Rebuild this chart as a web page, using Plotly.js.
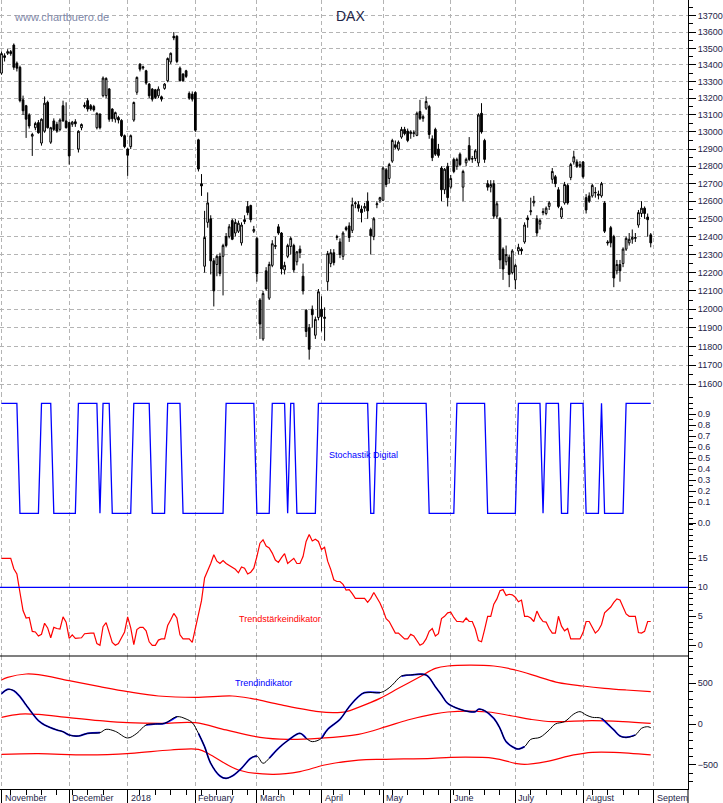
<!DOCTYPE html>
<html><head><meta charset="utf-8">
<script src="https://cdn.plot.ly/plotly-3.0.1.min.js"></script>
<style>html,body{margin:0;padding:0;background:#fff}#chart{width:723px;height:803px}</style>
</head><body><div id="chart"></div>
<script>
// ---- month axis ----
const monthLabels = ['November','December','2018','February','March','April','May','June','July','August','Septem'];
const monthStarts = [0,22,41,63,83,104,124,146,167,189,212];
const weekStarts = [3,8,13,18,23,28,33,45,50,55,60,65,70,75,80,85,90,95,100,108,113,118,123,127,132,137,142,147,152,157,162,172,177,182,187,192,197,202,207];

// ---- DAX daily candles (trading-day index 0..211) ----
const openPx = [13350,13455,13470,13480,13520,13410,13385,13190,13155,13100,
12975,13025,13055,12935,13005,13175,12940,13065,13045,13015,
13155,13065,13055,13045,13060,12900,13025,13150,13185,13155,
13150,13025,13105,13215,13215,13255,13135,13075,13085,13068,
12978,12900,12914,13070,13235,13404,13388,13364,13284,13254,
13250,13214,13208,13258,13304,13418,13574,13574,13380,13344,
13364,13228,13224,13234,12954,12700,12235,12480,12500,12265,
12245,12290,12290,12400,12400,12490,12420,12430,12365,12495,
12570,12575,12430,12390,12050,11840,12210,12060,12240,12345,
12455,12420,12215,12290,12345,12350,12260,12330,12180,11995,
11900,12000,11860,11955,12000,11950,12150,12250,12310,12395,
12370,12290,12450,12460,12435,12585,12580,12555,12560,12600,
12440,12400,12580,12605,12605,12780,12730,12830,12925,12900,
12970,13015,13005,12990,12990,12980,13120,13080,13140,13150,
12960,13015,12900,12790,12665,12800,12680,12840,12800,12870,
12680,12820,12920,12845,12845,12820,13110,12950,12700,12680,
12700,12515,12500,12330,12260,12285,12200,12160,12320,12330,
12370,12505,12540,12590,12500,12470,12535,12530,12570,12725,
12740,12665,12510,12590,12690,12735,12825,12825,12800,12825,
12620,12630,12630,12650,12640,12630,12590,12370,12450,12400,
12210,12245,12250,12330,12365,12385,12390,12465,12530,12560,
12510,12410];
const highPx = [13480,13470,13495,13490,13530,13420,13395,13215,13160,13110,
12995,13060,13070,13080,13210,13185,13030,13080,13060,13080,
13185,13175,13060,13065,13075,13010,13050,13175,13200,13165,
13160,13115,13110,13330,13325,13260,13140,13120,13095,13075,
12985,12905,12985,13180,13330,13410,13395,13370,13290,13260,
13255,13270,13215,13290,13445,13475,13600,13580,13390,13350,
13370,13240,13240,13240,12960,12755,12545,12650,12520,12280,
12300,12310,12360,12420,12470,12500,12500,12490,12480,12520,
12600,12580,12460,12400,12060,12100,12230,12260,12380,12400,
12470,12425,12260,12360,12400,12360,12320,12350,12250,12000,
11920,12020,11960,12110,12070,12010,12320,12330,12330,12410,
12390,12430,12460,12480,12620,12600,12600,12575,12590,12650,
12450,12510,12600,12625,12800,12790,12820,12960,12950,12950,
13030,13030,13020,13010,13010,13120,13190,13100,13210,13160,
12980,13025,12930,12800,12790,12820,12750,12850,12850,12880,
12780,12850,12970,12860,12900,13110,13170,12960,12720,12720,
12720,12600,12510,12340,12350,12300,12330,12250,12360,12340,
12480,12520,12620,12630,12520,12500,12560,12570,12600,12790,
12750,12680,12570,12710,12700,12820,12890,12840,12830,12830,
12640,12650,12700,12680,12660,12710,12600,12380,12460,12410,
12270,12270,12340,12400,12420,12440,12420,12550,12600,12570,
12530,12420];
const lowPx = [13340,13420,13460,13455,13370,13360,13175,13100,12965,13020,
12860,13010,12990,12920,12995,13020,12930,13005,12995,13005,
13060,13020,12810,13030,13030,12880,13010,13140,13120,13125,
13120,13015,13015,13205,13200,13060,13060,13055,13050,12970,
12905,12745,12900,13060,13220,13360,13370,13280,13200,13180,
13195,13200,13180,13250,13295,13405,13550,13410,13300,13300,
13320,13190,13180,13000,12770,12630,12200,12450,12190,12015,
12180,12180,12075,12340,12390,12380,12400,12420,12350,12470,
12520,12480,12420,12150,11840,11830,12100,12050,12230,12330,
12410,12190,12190,12280,12300,12200,12240,12280,12080,11850,
11730,11900,11840,11940,11880,11830,12100,12230,12240,12380,
12280,12270,12430,12370,12420,12560,12540,12480,12540,12500,
12300,12380,12560,12590,12600,12680,12700,12820,12900,12890,
12960,12980,12940,12960,12970,12975,13070,13060,13130,12960,
12830,12860,12850,12600,12640,12570,12670,12760,12780,12800,
12600,12800,12830,12820,12830,12800,12990,12820,12660,12650,
12500,12500,12220,12160,12240,12120,12190,12110,12300,12300,
12360,12450,12520,12570,12400,12440,12520,12520,12550,12700,
12680,12560,12500,12580,12580,12720,12810,12790,12790,12730,
12530,12590,12620,12620,12610,12620,12420,12350,12340,12120,
12190,12150,12230,12320,12350,12360,12370,12450,12510,12500,
12400,12340];
const closePx = [13468,13445,13480,13468,13385,13380,13185,13125,13075,13035,
12985,13050,12995,13075,13170,13025,13025,13015,13005,13070,
13065,13025,12860,13058,13048,13004,13044,13158,13135,13135,
13130,13110,13025,13320,13318,13075,13078,13114,13070,12978,
12914,12864,12978,13174,13324,13374,13382,13290,13214,13194,
13204,13254,13194,13284,13438,13470,13564,13420,13304,13304,
13330,13200,13194,13010,12784,12687,12395,12590,12265,12100,
12290,12195,12350,12350,12455,12385,12480,12475,12465,12485,
12535,12495,12440,12195,11920,12085,12110,12245,12360,12350,
12420,12220,12240,12350,12390,12215,12315,12310,12100,11880,
11785,11970,11945,12095,11960,11957,12305,12310,12255,12400,
12300,12420,12440,12395,12580,12590,12560,12535,12570,12545,
12405,12500,12585,12620,12790,12695,12810,12950,12910,12940,
13015,12990,12950,13000,12995,13110,13080,13090,13180,12985,
12850,12870,12863,12665,12783,12620,12730,12770,12840,12810,
12770,12840,12840,12842,12890,13100,13000,12840,12680,12695,
12515,12585,12270,12220,12300,12190,12320,12240,12340,12320,
12465,12495,12545,12600,12420,12490,12540,12560,12590,12770,
12700,12570,12560,12695,12590,12810,12855,12800,12810,12740,
12550,12600,12690,12648,12634,12700,12430,12365,12365,12170,
12245,12210,12330,12390,12385,12395,12395,12535,12560,12530,
12495,12365];

// ---- Stochastik Digital (0/1 per day) ----
const stochDigital = [1,1,1,1,1,1,0,0,0,0,0,0,0,1,1,1,1,0,0,0,0,0,0,0,0,1,1,1,1,1,1,1,0,1,1,1,
0,0,0,0,0,0,0,1,1,1,1,1,1,0,0,0,0,0,1,1,1,1,1,0,0,0,0,0,0,0,0,0,0,0,0,0,0,
1,1,1,1,1,1,1,1,1,1,0,0,0,0,0,1,1,1,1,1,0,1,1,0,0,0,0,0,0,0,
1,1,1,1,1,1,1,1,1,1,1,1,1,1,1,1,1,0,0,1,1,1,1,1,1,1,1,1,1,1,1,1,1,1,1,1,
0,0,0,0,0,0,0,0,0,1,1,1,1,1,1,1,1,1,1,0,0,0,0,0,0,0,0,0,0,1,1,1,1,1,1,1,1,0,
1,1,1,1,1,0,0,0,1,1,1,1,1,0,0,0,0,0,1,0,0,0,0,0,0,0,1,1,1,1,1,1,1,1,1];

// ---- Trendstärkeindikator ----
const trendStrength = [15,15,15,15,13.2,12.3,9.1,6.0,4.7,4.8,
2.4,2.3,1.6,1.9,3.8,3.0,1.3,3.1,2.9,2.8,
4.9,4.0,1.2,1.8,1.2,1.2,1.3,2.0,2.1,2.1,
2.1,0.3,0,3.2,3.9,2.0,0.5,0,0.3,1.3,
2.3,4.9,3.0,0.1,2.7,3.1,3.1,2.5,0.6,0,
0,0.9,1.1,1.1,3.4,4.4,5.5,4.7,1.8,1.1,
1.1,1.1,0.5,3.0,5.6,7.7,11.6,12.8,14.1,15.6,
14.5,14.1,14.6,14.1,13.8,13.5,13.1,12.5,13.5,13.3,
12.3,12.6,13.3,15.3,17.6,18.2,17.1,16.8,15.9,14.7,
14.3,15.1,15.8,14.1,14.5,15.0,14.1,14.1,15.3,17.9,
19.1,18.0,18.3,17.9,16.5,16.9,14.5,13.1,11.3,11.0,
11.0,10.5,9.5,9.6,8.9,8.1,8.1,8.1,8.1,7.4,
8.1,9.1,8.3,7.3,6.1,4.6,4.1,3.1,2.1,2.1,
1.6,1.1,1.1,1.9,1.6,0.9,0,0.3,1.1,2.4,
2.9,1.6,2.0,4.6,5.0,5.6,5.7,4.8,4.1,4.1,
4.0,4.7,4.1,4.1,2.8,0.8,0.6,2.7,5.0,5.0,
7.1,8.0,9.4,9.6,8.6,8.8,8.7,8.3,7.5,7.8,
5.0,5.0,4.7,4.1,5.9,4.8,4.1,4.0,2.9,2.1,
2.1,5.0,3.3,2.5,2.9,1.1,1.1,1.1,1.1,2.2,
4.1,4.1,3.2,2.1,2.6,3.6,5.6,6.1,6.6,7.4,
8.0,7.8,6.5,5.4,5.0,5.0,5.0,2.2,2.1,2.4,
4.1,4.1];
const trendStrengthLevel = 10;

// ---- Trendindikator ----
const trendX = [0,2,4,6,8,10,12,14,18,20,22,25,28,32,34,37,41,44,47,50,53,57,60,62,64,66,68,71,73,75,78,81,83,85,87,90,93,97,99,101,104,106,110,113,116,118,123,125,127,130,133,138,141,143,145,149,152,154,155,157,160,162,164,167,168,170,172,175,178,180,183,186,188,190,192,195,199,201,203,206,208,210,211];
const trendY = [370,424,408,335,233,131,41,-12,-73,-94,-135,-147,-114,-106,-65,-90,-171,-114,-12,0,8,90,61,16,-114,-277,-481,-636,-665,-636,-542,-420,-392,-481,-420,-298,-204,-114,-175,-216,-175,-65,57,212,335,384,384,416,477,587,600,600,457,355,253,180,151,151,180,163,69,-53,-216,-298,-306,-277,-188,-163,-73,0,29,122,151,110,82,69,-73,-147,-163,-135,-53,-33,-45];
const trendBlueRanges = [[0,23],[25,32],[47,54],[56,58],[64,84],[86,100],[104,123],[130,146],[149,155],[157,171],[195,206]];
const upperX = [0,2,8,12,22,32,41,51,63,75,81,91,103,108,112,116,123,129,136,141,145,160,167,175,181,189,196,203,211];
const upperY = [539,571,612,604,530,457,396,343,326,343,314,233,151,139,151,204,314,437,579,681,710,710,661,571,506,465,437,416,396];
const middleX = [0,6,12,22,32,41,52,63,73,84,93,103,116,125,132,140,145,158,166,172,179,192,202,211];
const middleY = [82,122,118,78,41,16,8,16,-73,-163,-188,-175,-126,-33,49,118,147,147,98,57,29,41,29,8];
const lowerX = [0,12,28,42,55,64,68,77,88,97,105,116,125,140,146,160,167,170,177,186,192,199,211];
const lowerY = [-371,-363,-379,-359,-318,-310,-379,-563,-616,-583,-502,-441,-432,-420,-408,-420,-481,-494,-461,-379,-347,-347,-379];

// ---- axis ticks ----
const priceTicks = [11600,11700,11800,11900,12000,12100,12200,12300,12400,12500,12600,12700,12800,12900,13000,13100,13200,13300,13400,13500,13600,13700];
const stochTicks = [-0.09,0.1,0.2,0.3,0.4,0.5,0.6,0.7,0.8,0.9];
const stochTickText = ['0.0','0.1','0.2','0.3','0.4','0.5','0.6','0.7','0.8','0.9'];
const strengthTicks = [0,5,10,15];
const trendTicks = [-500,0,500];

const days = closePx.map((_, i) => i);
const TXT = '#1e2448';
const FONT = 'Arial, "Liberation Sans", sans-serif';

const inBlue = x => trendBlueRanges.some(r => x >= r[0] && x <= r[1]);
const trendBlueY = trendY.map((v, k) => inBlue(trendX[k]) ? v : null);

const priceMinor = priceTicks.map(v => v + 50);

const traces = [
  {type:'candlestick', x:days, open:openPx, high:highPx, low:lowPx, close:closePx,
   xaxis:'x', yaxis:'y', whiskerwidth:0, hoverinfo:'skip',
   increasing:{line:{color:'#000', width:1}, fillcolor:'#ffffff'},
   decreasing:{line:{color:'#000', width:1}, fillcolor:'#000000'}},
  {type:'scatter', mode:'lines', x:days, y:stochDigital, xaxis:'x', yaxis:'y2',
   line:{color:'#0000ff', width:1.3}, hoverinfo:'skip'},
  {type:'scatter', mode:'lines', x:days, y:trendStrength, xaxis:'x', yaxis:'y3',
   line:{color:'#ff0000', width:1.2}, hoverinfo:'skip'},
  {type:'scatter', mode:'lines', x:upperX, y:upperY, xaxis:'x', yaxis:'y4',
   line:{color:'#ff0000', width:1.2, shape:'spline', smoothing:1}, hoverinfo:'skip'},
  {type:'scatter', mode:'lines', x:middleX, y:middleY, xaxis:'x', yaxis:'y4',
   line:{color:'#ff0000', width:1.2, shape:'spline', smoothing:1}, hoverinfo:'skip'},
  {type:'scatter', mode:'lines', x:lowerX, y:lowerY, xaxis:'x', yaxis:'y4',
   line:{color:'#ff0000', width:1.2, shape:'spline', smoothing:1}, hoverinfo:'skip'},
  {type:'scatter', mode:'lines', x:trendX, y:trendBlueY, xaxis:'x', yaxis:'y4', connectgaps:false,
   line:{color:'#0000ff', width:1.7, shape:'spline', smoothing:1}, hoverinfo:'skip'},
  {type:'scatter', mode:'lines', x:trendX, y:trendY, xaxis:'x', yaxis:'y4',
   line:{color:'#000000', width:1, shape:'spline', smoothing:1}, hoverinfo:'skip'}
];

const H = 789; // plot height in px
const dom = px => (H - px) / H;

const yCommon = {side:'right', anchor:'x', showline:true, linecolor:'#000', linewidth:1,
  ticks:'outside', ticklen:7, tickcolor:'#000', tickwidth:1, zeroline:false,
  tickfont:{family:FONT, size:9, color:TXT}, fixedrange:true};

const annotations = [
  {text:'DAX', x:350/688, xref:'paper', y:dom(16), yref:'paper', xanchor:'center', yanchor:'middle',
   showarrow:false, font:{family:FONT, size:14, color:TXT}},
  {text:'www.chartbuero.de', x:12/688, xref:'paper', y:dom(17), yref:'paper', xanchor:'left', yanchor:'middle',
   showarrow:false, font:{family:FONT, size:11, color:'#8088a8'}},
  {text:'Stochastik Digital', x:327/688, xref:'paper', y:dom(455), yref:'paper', xanchor:'left', yanchor:'middle',
   showarrow:false, font:{family:FONT, size:9, color:'#0000ff'}},
  {text:'Trendstärkeindikator', x:237/688, xref:'paper', y:dom(619), yref:'paper', xanchor:'left', yanchor:'middle',
   showarrow:false, font:{family:FONT, size:9, color:'#ff0000'}},
  {text:'Trendindikator', x:233/688, xref:'paper', y:dom(683), yref:'paper', xanchor:'left', yanchor:'middle',
   showarrow:false, font:{family:FONT, size:9, color:'#0000ff'}}
];
monthLabels.forEach((m, k) => annotations.push({
  text:m, x:monthStarts[k], xref:'x', y:0, yref:'paper', xanchor:'left', yanchor:'top',
  xshift:1, yshift:-2, showarrow:false, font:{family:FONT, size:9, color:TXT}}));

const layout = {
  width:723, height:803, margin:{l:0, r:35, t:0, b:14},
  paper_bgcolor:'#fff', plot_bgcolor:'#fff', showlegend:false, boxgap:0.2,
  xaxis:{range:[-0.4875, 223.11], anchor:'y4', rangeslider:{visible:false}, fixedrange:true,
    tickvals:monthStarts, showticklabels:false, ticks:'outside', ticklen:14, tickcolor:'#000',
    showgrid:true, gridcolor:'#b4b4b4', griddash:'4px,3px', gridwidth:1,
    showline:true, linecolor:'#000', linewidth:1, zeroline:false,
    minor:{tickvals:weekStarts, ticks:'outside', ticklen:5, tickcolor:'#000', showgrid:false}},
  yaxis:Object.assign({}, yCommon, {domain:[dom(393), 1], type:'log',
    range:[4.062751, 4.139819], tickvals:priceTicks, ticktext:priceTicks.map(String),
    showgrid:true, gridcolor:'#b4b4b4', griddash:'4px,3px', gridwidth:1,
    minor:{tickvals:priceMinor, ticks:'outside', ticklen:4, tickcolor:'#000', showgrid:false}}),
  yaxis2:Object.assign({}, yCommon, {domain:[dom(527), dom(393)], range:[-0.1245, 1.0936],
    tickvals:stochTicks, ticktext:stochTickText, showgrid:false,
    minor:{dtick:0.05, tick0:0, ticks:'outside', ticklen:4, tickcolor:'#000', showgrid:false}}),
  yaxis3:Object.assign({}, yCommon, {domain:[dom(656), dom(527)], range:[-1.845, 20.397],
    tickvals:strengthTicks, showgrid:false,
    minor:{dtick:1, tick0:0, ticks:'outside', ticklen:4, tickcolor:'#000', showgrid:false}}),
  yaxis4:Object.assign({}, yCommon, {domain:[0, dom(656)], range:[-795.6, 832.3],
    tickvals:trendTicks, showgrid:false,
    minor:{dtick:100, tick0:0, ticks:'outside', ticklen:4, tickcolor:'#000', showgrid:false}}),
  shapes:[
    {type:'line', xref:'paper', yref:'paper', x0:0, x1:1, y0:dom(656), y1:dom(656), line:{color:'#000', width:1.2}},
    {type:'line', xref:'paper', yref:'y3', x0:0, x1:1, y0:trendStrengthLevel, y1:trendStrengthLevel, line:{color:'#0000ff', width:1.2}},
    {type:'line', xref:'paper', yref:'paper', x0:1, x1:1, y0:-14/H, y1:0, line:{color:'#000', width:1}}
  ],
  annotations:annotations
};

Plotly.newPlot('chart', traces, layout, {displayModeBar:false, staticPlot:true});
</script>
</body></html>
